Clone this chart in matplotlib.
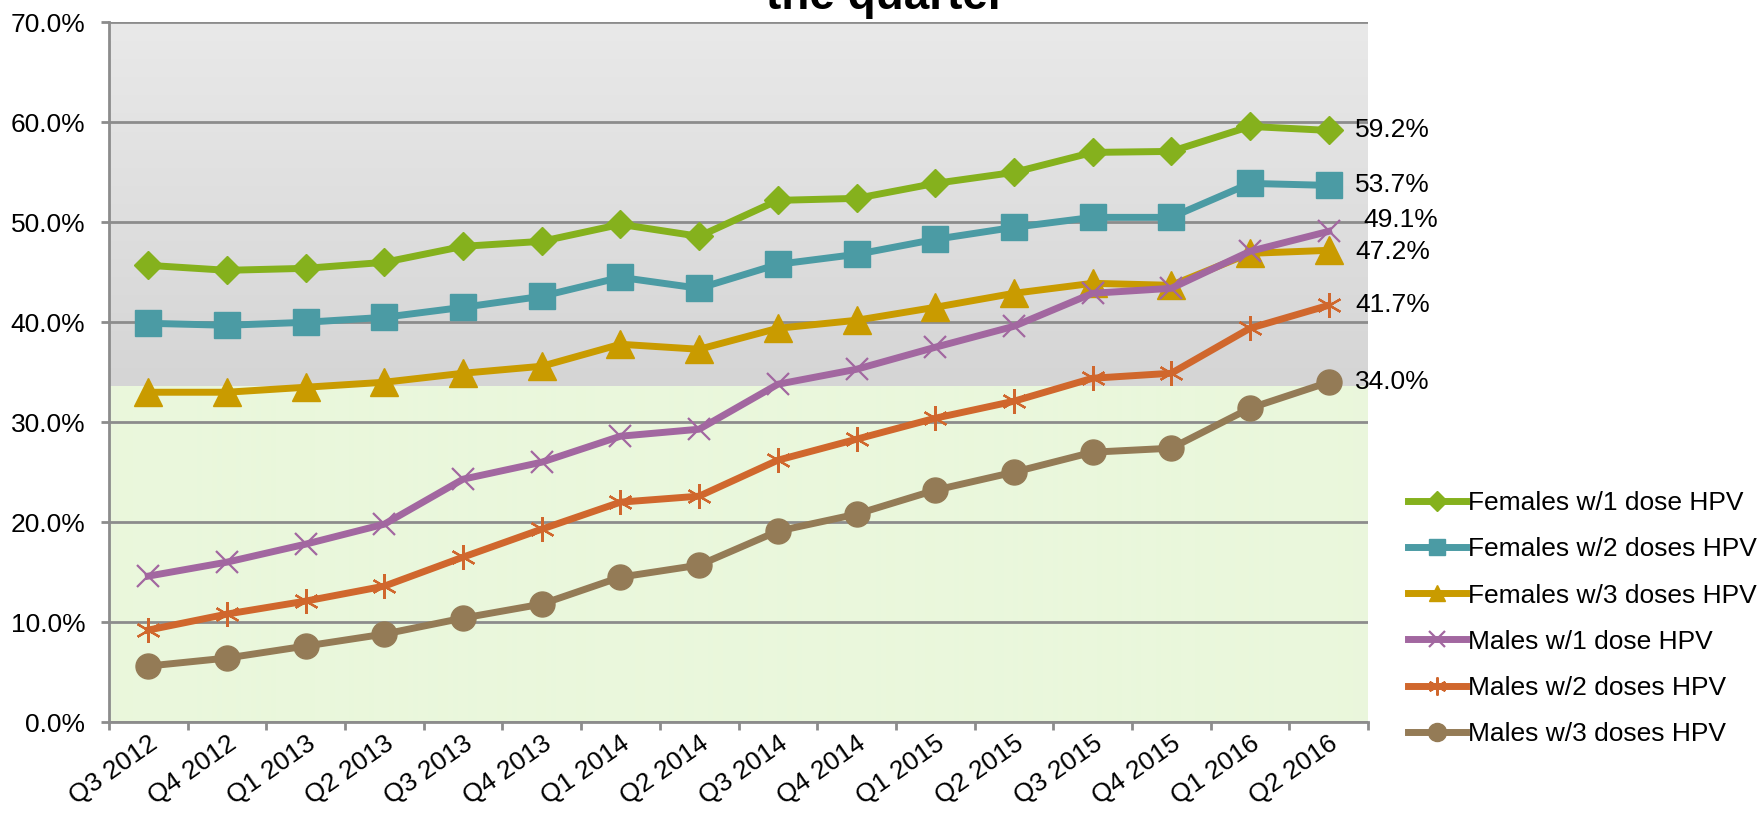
import matplotlib.pyplot as plt
import matplotlib.colors as mcolors
import matplotlib.transforms as mtransforms
import numpy as np

plt.rcParams['font.family'] = ['Liberation Sans', 'DejaVu Sans']

quarters = ['Q3 2012', 'Q4 2012', 'Q1 2013', 'Q2 2013', 'Q3 2013', 'Q4 2013',
            'Q1 2014', 'Q2 2014', 'Q3 2014', 'Q4 2014', 'Q1 2015', 'Q2 2015',
            'Q3 2015', 'Q4 2015', 'Q1 2016', 'Q2 2016']

fem1 = [45.7, 45.2, 45.4, 46.0, 47.6, 48.1, 49.8, 48.6, 52.2, 52.4, 53.9, 55.0, 57.0, 57.1, 59.6, 59.2]
fem2 = [39.9, 39.7, 40.0, 40.5, 41.5, 42.6, 44.5, 43.4, 45.8, 46.8, 48.3, 49.5, 50.5, 50.5, 53.9, 53.7]
fem3 = [33.0, 33.0, 33.5, 34.0, 34.9, 35.6, 37.8, 37.3, 39.4, 40.2, 41.5, 42.9, 43.9, 43.7, 46.9, 47.2]
male1 = [14.6, 16.0, 17.8, 19.8, 24.3, 26.0, 28.6, 29.3, 33.8, 35.3, 37.5, 39.6, 42.9, 43.4, 47.1, 49.1]
male2 = [9.2, 10.8, 12.1, 13.6, 16.5, 19.3, 22.0, 22.6, 26.2, 28.3, 30.4, 32.1, 34.4, 34.9, 39.4, 41.7]
male3 = [5.6, 6.4, 7.6, 8.8, 10.4, 11.8, 14.5, 15.7, 19.1, 20.8, 23.2, 25.0, 27.0, 27.4, 31.4, 34.0]

series = [
    ('Females w/1 dose HPV', fem1, '#85b11d', 'D', 14),
    ('Females w/2 doses HPV', fem2, '#4b9ba4', 's', 19),
    ('Females w/3 doses HPV', fem3, '#c99b00', '^', 20),
    ('Males w/1 dose HPV', male1, '#a267a0', 'x', 16),
    ('Males w/2 doses HPV', male2, '#d0672d', (6, 2, 0), 18),
    ('Males w/3 doses HPV', male3, '#947b56', 'o', 18),
]
leg_ms = [10, 12, 12, 12, 13, 13]

fig = plt.figure(figsize=(17.62, 8.14), dpi=100)
ax = fig.add_axes([109 / 1762, 1 - 722 / 814, 1259 / 1762, 699.5 / 814])

# фон: серый градиент сверху, светло-зелёный снизу
yy = np.linspace(70, 0, 700)
top = np.array(mcolors.to_rgb('#e9e9e9'))
mid = np.array(mcolors.to_rgb('#d5d5d5'))
green = np.array(mcolors.to_rgb('#eaf7dc'))
img = np.zeros((len(yy), 1, 3))
for i, v in enumerate(yy):
    if v >= 33.6:
        t = (70 - v) / (70 - 33.6)
        img[i, 0] = top * (1 - t) + mid * t
    else:
        img[i, 0] = green
ax.imshow(img, extent=[-0.5, 15.5, 0, 70], aspect='auto', zorder=0, interpolation='bilinear')

x = np.arange(len(quarters))
for name, vals, col, mk, ms in series:
    mew = 1.6 if mk in ('x', (6, 2, 0)) else 1
    ax.plot(x, vals, color=col, lw=5, marker=mk, markersize=ms,
            markeredgecolor=col, markeredgewidth=mew, label=name, zorder=3)

# подписи последних значений
offsets = {'Females w/1 dose HPV': (0, 0), 'Females w/2 doses HPV': (0, 0),
           'Females w/3 doses HPV': (0, -1), 'Males w/1 dose HPV': (6, 8),
           'Males w/2 doses HPV': (0, 0), 'Males w/3 doses HPV': (0, 0)}
for name, vals, col, mk, ms in series:
    dx, dy = offsets[name]
    ax.annotate(f'{vals[-1]:.1f}%', (x[-1], vals[-1]), xytext=(19 + dx, dy),
                textcoords='offset points', va='center', ha='left',
                fontsize=19, annotation_clip=False)

ax.set_xlim(-0.5, 15.5)
ax.set_ylim(0, 70)
ax.set_yticks(np.arange(0, 71, 10))
ax.set_yticklabels([f'{v:.1f}%' for v in range(0, 71, 10)], fontsize=19)
ax.yaxis.grid(True, color='#8c8c8c', lw=2)
ax.set_axisbelow(True)

ax.set_xticks(np.arange(-0.5, 16, 1))
ax.set_xticklabels([])
ax.set_xticks(x, minor=True)
ax.set_xticklabels(quarters, minor=True, rotation=35, ha='right',
                   rotation_mode='anchor', fontsize=19)
shift = mtransforms.ScaledTranslation(4 / 72, 0, fig.dpi_scale_trans)
for lab in ax.get_xticklabels(minor=True):
    lab.set_transform(lab.get_transform() + shift)
ax.tick_params(axis='x', which='minor', length=0, pad=7)
ax.tick_params(axis='x', which='major', length=6, width=2, color='#8c8c8c')
ax.tick_params(axis='y', length=6, width=2, color='#8c8c8c', pad=11)

for s in ['left', 'bottom']:
    ax.spines[s].set_color('#8c8c8c')
    ax.spines[s].set_linewidth(2)
ax.spines['right'].set_visible(False)
ax.spines['top'].set_visible(False)

leg = ax.legend(loc='upper left', bbox_to_anchor=(1.023, 0.345), frameon=False,
                fontsize=19, handlelength=2.2, handletextpad=0.1,
                labelspacing=0.84, borderaxespad=0)
for h, m in zip(leg.legend_handles, leg_ms):
    h.set_markersize(m)

fig.text(0.503, 1 - 9 / 814, 'the quarter', ha='center', va='baseline',
         fontsize=33, fontweight='bold')

plt.savefig('out.png', dpi=100)
